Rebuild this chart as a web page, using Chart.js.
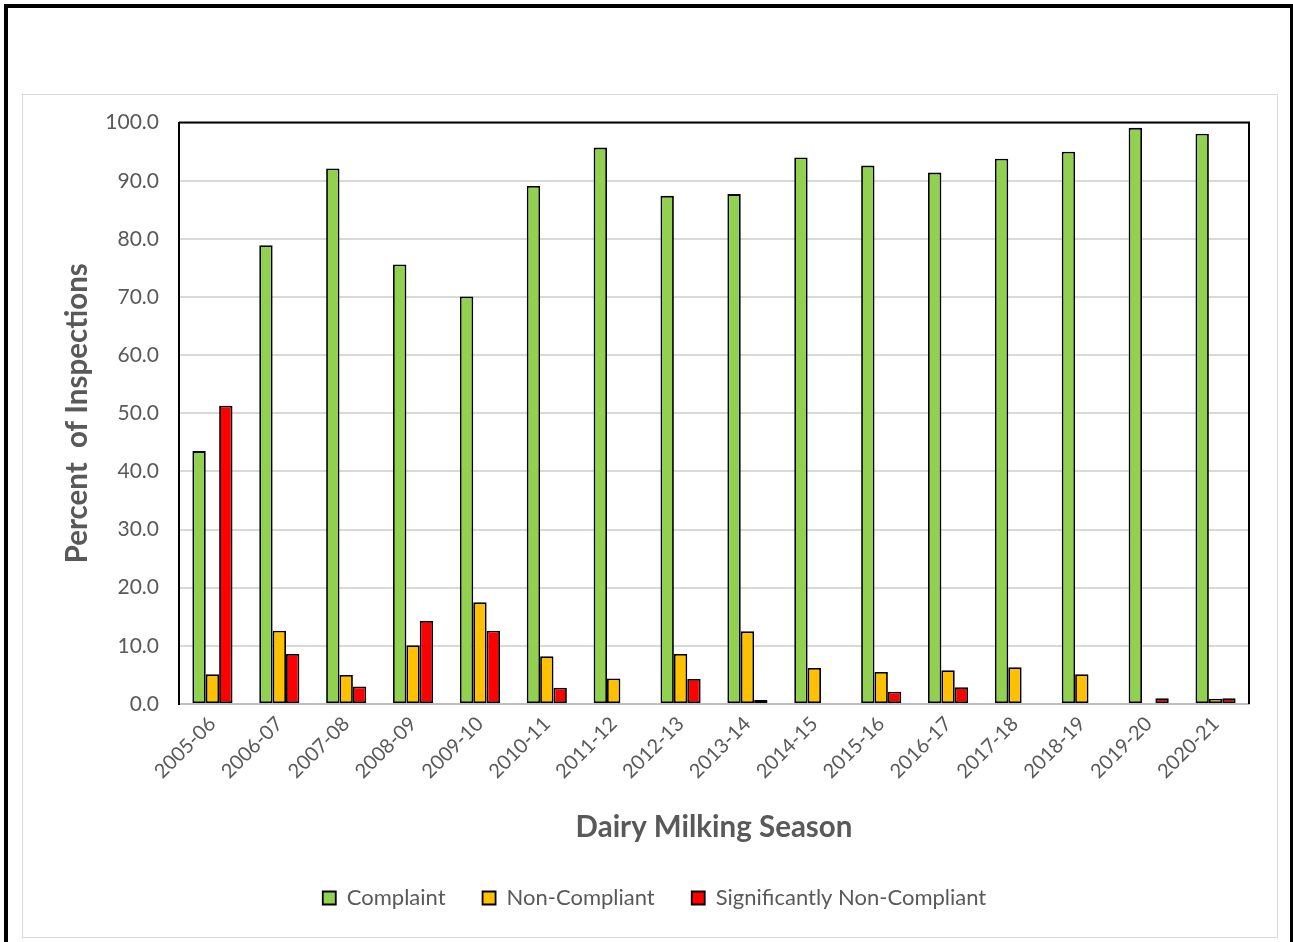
<!DOCTYPE html>
<html>
<head>
<meta charset="utf-8">
<script src="https://cdn.jsdelivr.net/npm/chart.js@4.4.1/dist/chart.umd.min.js"></script>
<style>
  html, body { margin: 0; padding: 0; background: #fff; }
  body { width: 1293px; height: 942px; position: relative; overflow: hidden; }
  #outer {
    position: absolute; left: 4px; top: 4px; width: 1289px; height: 960px;
    box-sizing: border-box; border: 4px solid #000; border-right-width: 3px;
  }
  #frame {
    position: absolute; left: 22px; top: 94px; width: 1256px; height: 844px;
    box-sizing: border-box; border: 1px solid #d9d9d9;
  }
  #wrap { position: absolute; left: 23px; top: 90px; width: 1254px; height: 847px; }
</style>
</head>
<body>
<div id="outer"></div>
<div id="frame"></div>
<div id="wrap"><canvas id="chart"></canvas></div>
<script>
// Data
const seasons = ['2005-06', '2006-07', '2007-08', '2008-09', '2009-10', '2010-11', '2011-12', '2012-13',
  '2013-14', '2014-15', '2015-16', '2016-17', '2017-18', '2018-19', '2019-20', '2020-21'];
const complaint = [43.5, 78.9, 92.1, 75.6, 70.1, 89.1, 95.7, 87.4, 87.7, 94.0, 92.6, 91.4, 93.8, 95.0, 99.1, 98.1];
const nonCompliant = [5.1, 12.6, 5.0, 10.1, 17.5, 8.2, 4.4, 8.6, 12.5, 6.2, 5.5, 5.8, 6.3, 5.1, null, 0.9];
const sigNonCompliant = [51.3, 8.6, 3.0, 14.3, 12.6, 2.8, null, 4.3, 0.7, null, 2.1, 2.9, null, null, 1.0, 1.0];

const textColor = '#595959';
const fontFamily = 'Lato, "Open Sans", sans-serif';

// top and right edges of the plot frame
const plotFrame = {
  id: 'plotFrame',
  beforeDatasetsDraw(chart) {
    const { ctx, chartArea: a } = chart;
    ctx.save();
    ctx.strokeStyle = '#000';
    ctx.lineWidth = 2;
    ctx.beginPath();
    ctx.moveTo(a.left, a.top);
    ctx.lineTo(a.right, a.top);
    ctx.lineTo(a.right, a.bottom);
    ctx.stroke();
    ctx.restore();
  }
};

function barSet(label, data, color) {
  return {
    label: label,
    data: data,
    backgroundColor: color,
    borderColor: '#000',
    borderWidth: 1.8,
    borderSkipped: false,
    categoryPercentage: 0.6,
    barPercentage: 1.0
  };
}

new Chart(document.getElementById('chart'), {
  type: 'bar',
  data: {
    labels: seasons,
    datasets: [
      barSet('Complaint', complaint, '#92D050'),
      barSet('Non-Compliant', nonCompliant, '#FFC000'),
      barSet('Significantly Non-Compliant', sigNonCompliant, '#FF0000')
    ]
  },
  options: {
    responsive: true,
    maintainAspectRatio: false,
    animation: false,
    layout: { padding: { left: 37, right: 28, top: 23, bottom: 18 } },
    plugins: {
      tooltip: { enabled: false },
      legend: {
        position: 'bottom',
        labels: {
          boxWidth: 13,
          boxHeight: 13,
          padding: 37,
          color: textColor,
          font: { family: fontFamily, size: 22 }
        }
      }
    },
    scales: {
      x: {
        grid: { display: false, drawTicks: false },
        border: { color: '#bfbfbf', width: 2 },
        ticks: {
          color: textColor,
          font: { family: fontFamily, size: 20 },
          maxRotation: 45,
          minRotation: 45,
          autoSkip: false,
          padding: 8
        },
        title: {
          display: true,
          text: 'Dairy Milking Season',
          color: textColor,
          font: { family: fontFamily, size: 29.5, weight: 'bold' },
          padding: { top: 4, bottom: 5 }
        },
        afterFit(scale) { scale.height = 146; }
      },
      y: {
        min: 0,
        max: 100,
        grid: { color: '#d9d9d9', lineWidth: 2, drawTicks: false },
        border: { color: '#000', width: 2 },
        ticks: {
          stepSize: 10,
          color: textColor,
          font: { family: fontFamily, size: 21 },
          padding: 20,
          callback: (v) => v.toFixed(1)
        },
        title: {
          display: true,
          text: 'Percent  of Inspections',
          color: textColor,
          font: { family: fontFamily, size: 29.5, weight: 'bold' },
          padding: { top: 0, bottom: 0 }
        },
        afterFit(scale) { scale.width = 119; }
      }
    }
  },
  plugins: [plotFrame]
});
</script>
</body>
</html>
